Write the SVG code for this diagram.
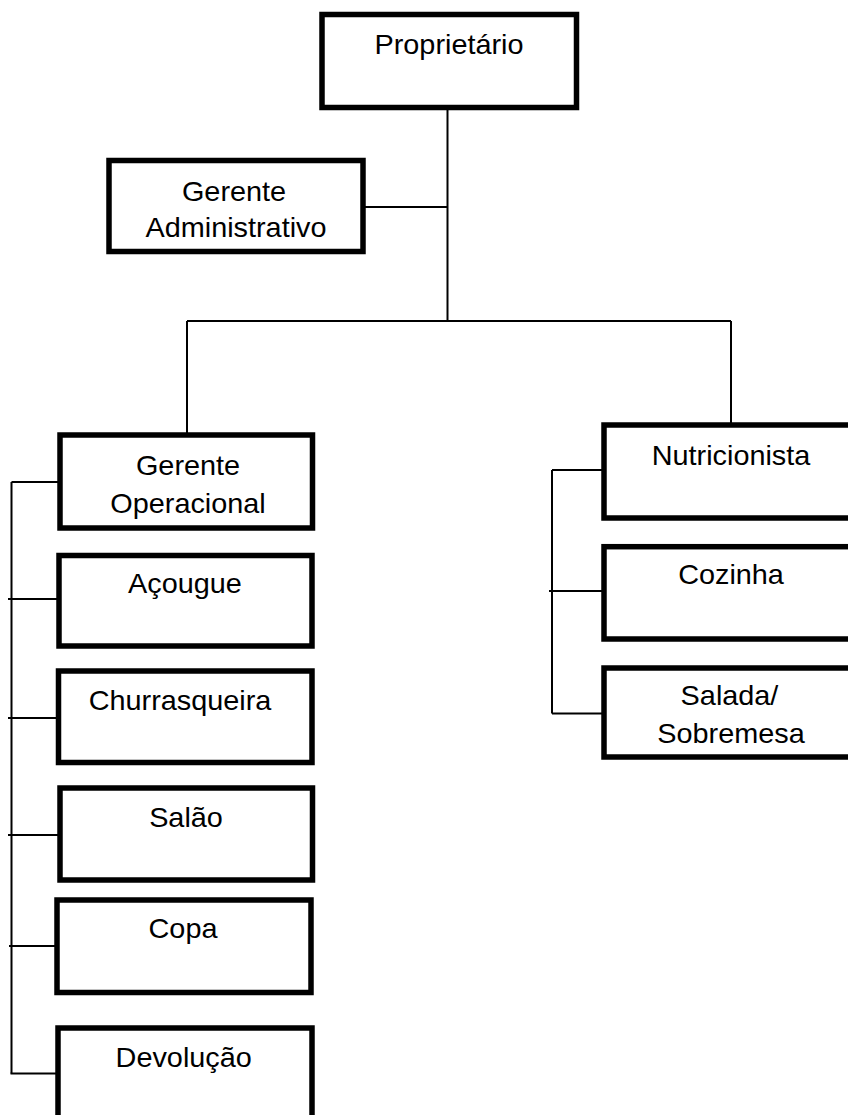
<svg xmlns="http://www.w3.org/2000/svg" width="848" height="1115" viewBox="0 0 848 1115">
  <style>
    .box { fill: #ffffff; stroke: #000000; stroke-width: 5.5; }
    .wire { fill: none; stroke: #000000; stroke-width: 2; }
    .lbl { font-family: "Liberation Sans", Arial, sans-serif; font-size: 28px; fill: #000000; text-anchor: middle; }
  </style>
  <rect width="848" height="1115" fill="#ffffff"/>

  <!-- connectors -->
  <g id="connectors" class="wire">
    <line x1="447.5" y1="108" x2="447.5" y2="321"/>
    <line x1="363" y1="207" x2="447.5" y2="207"/>
    <line x1="187" y1="321" x2="731" y2="321"/>
    <line x1="187" y1="321" x2="187" y2="435"/>
    <line x1="731" y1="321" x2="731" y2="425"/>
    <!-- left column bus -->
    <line x1="11.5" y1="482" x2="11.5" y2="1073.5"/>
    <line x1="11.5" y1="482" x2="60" y2="482"/>
    <line x1="8" y1="599" x2="59" y2="599"/>
    <line x1="8" y1="718" x2="59" y2="718"/>
    <line x1="8" y1="835" x2="60" y2="835"/>
    <line x1="9" y1="946" x2="57" y2="946"/>
    <line x1="10.5" y1="1073.5" x2="58" y2="1073.5"/>
    <!-- right column bus -->
    <line x1="552" y1="470" x2="552" y2="713.5"/>
    <line x1="552" y1="470" x2="604" y2="470"/>
    <line x1="549" y1="591" x2="604" y2="591"/>
    <line x1="552" y1="713.5" x2="604" y2="713.5"/>
  </g>

  <g id="proprietario">
    <rect class="box" x="322" y="14.5" width="254.5" height="93"/>
    <text class="lbl" transform="translate(449 54) scale(1.03 1)">Proprietário</text>
  </g>

  <g id="gerente-administrativo">
    <rect class="box" x="109" y="160.5" width="254" height="91"/>
    <text class="lbl" transform="translate(234 200.5) scale(1.03 1)">Gerente</text>
    <text class="lbl" transform="translate(236 236.7) scale(1.03 1)">Administrativo</text>
  </g>

  <g id="gerente-operacional">
    <rect class="box" x="60" y="435" width="252.5" height="93"/>
    <text class="lbl" transform="translate(188 475) scale(1.03 1)">Gerente</text>
    <text class="lbl" transform="translate(188 513) scale(1.03 1)">Operacional</text>
  </g>

  <g id="acougue">
    <rect class="box" x="59" y="555.5" width="253" height="90.5"/>
    <text class="lbl" transform="translate(185 593.3) scale(1.03 1)">Açougue</text>
  </g>

  <g id="churrasqueira">
    <rect class="box" x="58.5" y="671" width="253.5" height="91.5"/>
    <text class="lbl" transform="translate(180 710) scale(1.03 1)">Churrasqueira</text>
  </g>

  <g id="salao">
    <rect class="box" x="60" y="788" width="252.5" height="92"/>
    <text class="lbl" transform="translate(186 826.7) scale(1.03 1)">Salão</text>
  </g>

  <g id="copa">
    <rect class="box" x="57" y="900" width="254" height="92.5"/>
    <text class="lbl" transform="translate(183 938.3) scale(1.03 1)">Copa</text>
  </g>

  <g id="devolucao">
    <rect class="box" x="58" y="1028" width="254" height="95"/>
    <text class="lbl" transform="translate(183.7 1066.7) scale(1.03 1)">Devolução</text>
  </g>

  <g id="nutricionista">
    <rect class="box" x="604" y="425" width="256" height="93"/>
    <text class="lbl" transform="translate(731 465) scale(1.03 1)">Nutricionista</text>
  </g>

  <g id="cozinha">
    <rect class="box" x="604" y="546.7" width="256" height="92.3"/>
    <text class="lbl" transform="translate(731 584.3) scale(1.03 1)">Cozinha</text>
  </g>

  <g id="salada-sobremesa">
    <rect class="box" x="604" y="668" width="256" height="89"/>
    <text class="lbl" transform="translate(729.5 705) scale(1.03 1)">Salada/</text>
    <text class="lbl" transform="translate(731 743.3) scale(1.03 1)">Sobremesa</text>
  </g>
</svg>
